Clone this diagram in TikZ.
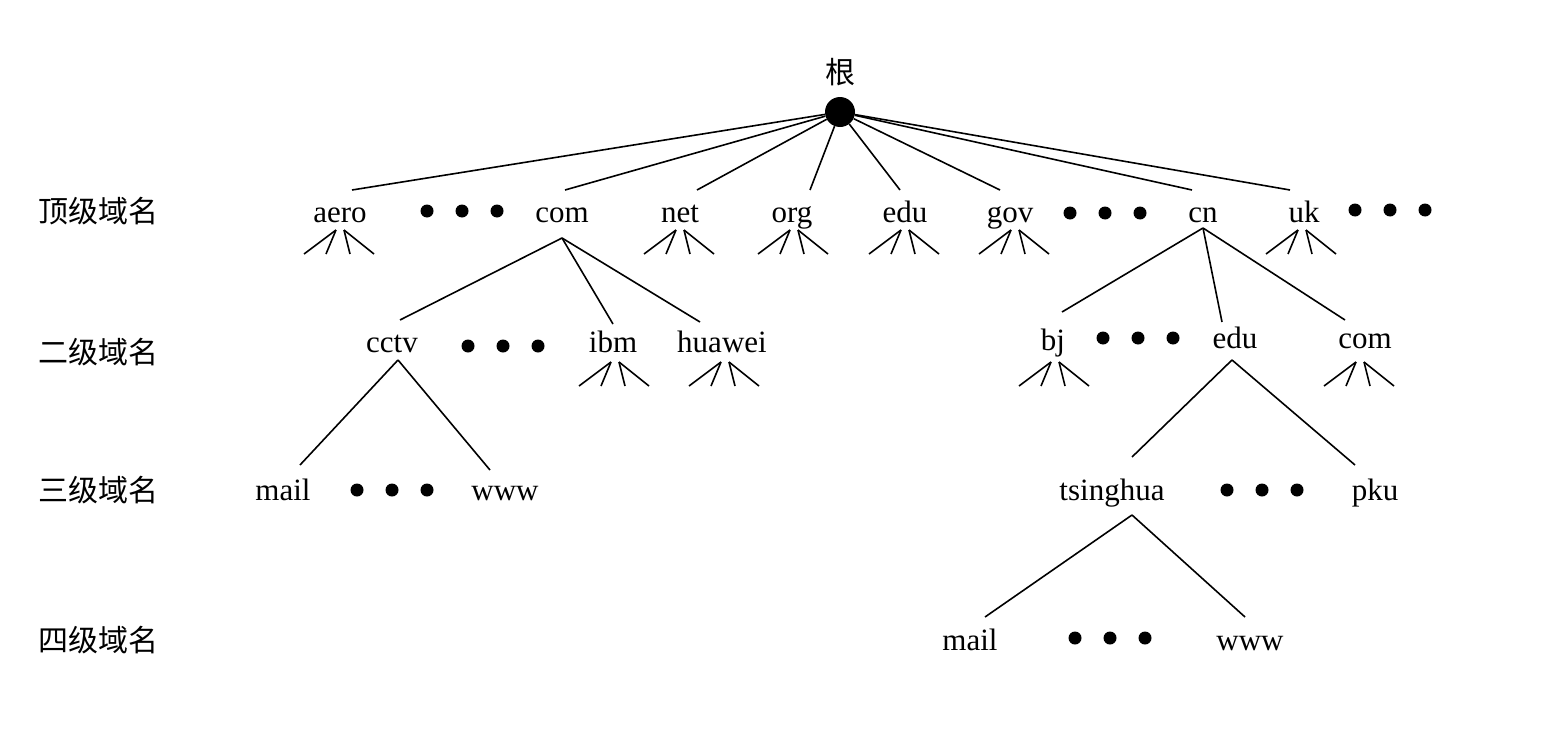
\documentclass[tikz,border=0pt]{standalone}
\usepackage{fontspec}
\setmainfont{Liberation Serif}
\newfontfamily\cjk{Noto Sans CJK SC}
\begin{document}
\begin{tikzpicture}[x=1pt,y=-1pt,
  lbl/.style={font=\fontsize{31}{31}\selectfont, inner sep=1pt, anchor=base},
  lev/.style={font=\cjk\fontsize{30}{30}\selectfont, inner sep=0pt},
  ln/.style={line width=1.6pt},
  dotc/.style={circle, fill=black, inner sep=0pt, minimum size=13pt}]
\useasboundingbox (0,0) rectangle (1544,728);
\newcommand\threedots[2]{\foreach \k in {-35,0,35}{\fill (#1+\k,#2) circle (6.5);}}
\newcommand\fan[2]{%
  \draw[ln] (#1-4,#2) -- (#1-36,#2+24); \draw[ln] (#1-4,#2) -- (#1-14,#2+24);
  \draw[ln] (#1+4,#2) -- (#1+10,#2+24); \draw[ln] (#1+4,#2) -- (#1+34,#2+24);}
% row labels
\node[lev] at (98,211) {顶级域名};
\node[lev] at (98,352) {二级域名};
\node[lev] at (98,490) {三级域名};
\node[lev] at (98,640) {四级域名};
% root
\node[dotc, minimum size=30pt] (root) at (840,112) {};
\node[font=\cjk\fontsize{30}{30}\selectfont] (rootl) at (840,72) {根};
% top level
\node[lbl] (aero) at (340,222) {aero};
\node[lbl] (com) at (562,222) {com};
\node[lbl] (net) at (680,222) {net};
\node[lbl] (org) at (792,222) {org};
\node[lbl] (edu) at (905,222) {edu};
\node[lbl] (gov) at (1010,222) {gov};
\node[lbl] (cn) at (1203,222) {cn};
\node[lbl] (uk) at (1304,222) {uk};
\threedots{462}{211}\threedots{1105}{213}\threedots{1390}{210}
\foreach \n/\x in {aero/352,com/565,net/697,org/810,edu/900,gov/1000,cn/1192,uk/1290}
  \draw[ln] (root) -- (\x,190);
\fan{340}{230}\fan{680}{230}\fan{794}{230}\fan{905}{230}\fan{1015}{230}\fan{1302}{230}
% second level
\node[lbl] (cctv) at (392,352) {cctv};
\node[lbl] (ibm) at (613,352) {ibm};
\node[lbl] (huawei) at (722,352) {huawei};
\node[lbl] (bj) at (1053,350) {bj};
\node[lbl] (edu2) at (1235,348) {edu};
\node[lbl] (com2) at (1365,348) {com};
\threedots{503}{346}\threedots{1138}{338}
\coordinate (comA) at (562,238);
\draw[ln] (comA) -- (400,320); \draw[ln] (comA) -- (613,324); \draw[ln] (comA) -- (700,322);
\coordinate (cnA) at (1203,228);
\draw[ln] (cnA) -- (1062,312); \draw[ln] (cnA) -- (1222,322); \draw[ln] (cnA) -- (1345,320);
\fan{615}{362}\fan{725}{362}\fan{1055}{362}\fan{1360}{362}
% third level
\node[lbl] (mail1) at (283,500) {mail};
\node[lbl] (www1) at (505,500) {www};
\node[lbl] (tsing) at (1112,500) {tsinghua};
\node[lbl] (pku) at (1375,500) {pku};
\threedots{392}{490}\threedots{1262}{490}
\coordinate (cctvA) at (398,360);
\draw[ln] (cctvA) -- (300,465); \draw[ln] (cctvA) -- (490,470);
\coordinate (eduA) at (1232,360);
\draw[ln] (eduA) -- (1132,457); \draw[ln] (eduA) -- (1355,465);
% fourth level
\node[lbl] (mail2) at (970,650) {mail};
\node[lbl] (www2) at (1250,650) {www};
\threedots{1110}{638}
\coordinate (tsA) at (1132,515);
\draw[ln] (tsA) -- (985,617); \draw[ln] (tsA) -- (1245,617);
\end{tikzpicture}
\end{document}
